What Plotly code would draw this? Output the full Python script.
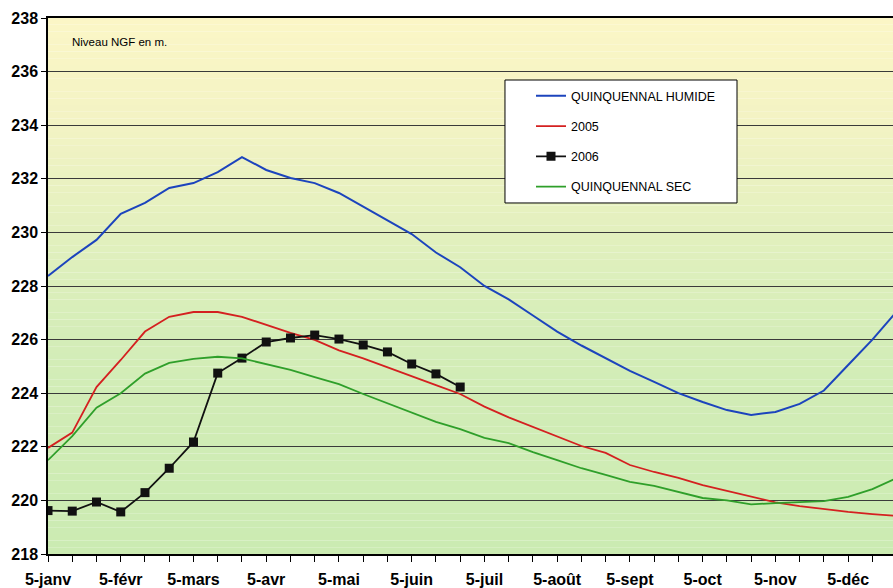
import plotly.graph_objects as go

# decades (5, 15, 25 of each month)
mois = ["janv", "févr", "mars", "avr", "mai", "juin", "juil", "août", "sept", "oct", "nov", "déc"]
categories = [f"{d}-{m}" for m in mois for d in (5, 15, 25)]

quinq_humide = [228.37, 229.08, 229.72, 230.69, 231.10, 231.66, 231.84, 232.25, 232.81, 232.33,
                232.03, 231.84, 231.47, 230.95, 230.43, 229.94, 229.25, 228.70, 228.00, 227.50,
                226.90, 226.30, 225.78, 225.31, 224.83, 224.42, 224.00, 223.67, 223.37, 223.19,
                223.30, 223.60, 224.10, 225.05, 226.00, 227.05]
an_2005 = [221.96, 222.53, 224.23, 225.24, 226.30, 226.85, 227.03, 227.03, 226.85, 226.54,
           226.25, 225.99, 225.60, 225.30, 224.96, 224.64, 224.30, 223.97, 223.50, 223.10,
           222.74, 222.40, 222.03, 221.77, 221.32, 221.06, 220.84, 220.57, 220.35, 220.15,
           219.93, 219.79, 219.68, 219.57, 219.49, 219.42]
an_2006 = [219.62, 219.60, 219.94, 219.57, 220.29, 221.20, 222.18, 224.75, 225.31, 225.91,
           226.06, 226.17, 226.02, 225.80, 225.54, 225.09, 224.72, 224.23]
quinq_sec = [221.50, 222.40, 223.46, 224.00, 224.73, 225.13, 225.28, 225.36, 225.30, 225.09,
             224.87, 224.60, 224.34, 223.97, 223.63, 223.26, 222.93, 222.66, 222.33, 222.14,
             221.80, 221.50, 221.20, 220.95, 220.69, 220.54, 220.31, 220.09, 220.00, 219.85,
             219.90, 219.93, 219.97, 220.13, 220.42, 220.83]

ticktext = [c if i % 3 == 0 else "" for i, c in enumerate(categories)]

fig = go.Figure()
fig.add_trace(go.Scatter(x=categories, y=quinq_humide, mode="lines", name="QUINQUENNAL HUMIDE",
                         legendgroup="a", line=dict(color="#1c44bd", width=2)))
fig.add_trace(go.Scatter(x=categories, y=an_2005, mode="lines", name="2005",
                         legendgroup="b", line=dict(color="#d42020", width=1.8)))
fig.add_trace(go.Scatter(x=categories[:len(an_2006)], y=an_2006, mode="lines+markers", name="2006",
                         legendgroup="c", line=dict(color="#111111", width=1.8),
                         marker=dict(symbol="square", size=9, color="#111111")))
fig.add_trace(go.Scatter(x=categories, y=quinq_sec, mode="lines", name="QUINQUENNAL SEC",
                         legendgroup="d", line=dict(color="#2f9f2a", width=1.8)))

# yellow -> green background gradient
stops = [(0.0, (203, 235, 178)), (0.4, (212, 237, 184)), (0.6, (226, 240, 190)),
         (0.8, (243, 243, 196)), (1.0, (251, 246, 198))]

def col_at(f):
    for (f0, c0), (f1, c1) in zip(stops[:-1], stops[1:]):
        if f0 <= f <= f1:
            t = (f - f0) / (f1 - f0)
            return "rgb(%d,%d,%d)" % tuple(round(a + (b - a) * t) for a, b in zip(c0, c1))
    return "rgb(%d,%d,%d)" % stops[-1][1]

n = 80
shapes = []
for k in range(n):
    shapes.append(dict(type="rect", xref="paper", yref="paper", x0=0, x1=1,
                       y0=k / n, y1=(k + 1) / n, line=dict(width=0),
                       fillcolor=col_at((k + 0.5) / n), layer="below"))
# legend frame
shapes.append(dict(type="rect", xref="paper", yref="paper", x0=0.5408, x1=0.8154,
                   y0=0.6549, y1=0.8843, fillcolor="white",
                   line=dict(color="black", width=1), layer="above"))

fig.update_layout(
    width=893, height=588,
    margin=dict(l=48, r=0, t=18, b=34),
    paper_bgcolor="white", plot_bgcolor="rgba(0,0,0,0)",
    font=dict(family="Arial, Liberation Sans", color="black"),
    shapes=shapes,
    showlegend=True,
    legend=dict(x=0.5716, y=0.882, xanchor="left", yanchor="top",
                bgcolor="rgba(0,0,0,0)", borderwidth=0, tracegroupgap=11,
                font=dict(size=12.5, family="Arial, Liberation Sans")),
    annotations=[dict(text="Niveau NGF en m.", xref="paper", yref="paper", x=0.026, y=0.955,
                      xanchor="left", yanchor="middle", showarrow=False,
                      font=dict(size=11.5, family="Liberation Sans Narrow, Arial Narrow, Arial"))],
)
fig.update_xaxes(type="category", range=[0, 34.85], tickmode="array", tickvals=categories,
                 ticktext=ticktext, ticks="outside", ticklen=6, tickcolor="black",
                 showline=True, linecolor="black", linewidth=1.5, mirror=True,
                 showgrid=False, zeroline=False, automargin=False, ticklabelstandoff=4,
                 tickfont=dict(size=16, family="Arial", weight="bold"))
fig.update_yaxes(range=[218, 238], dtick=2, ticks="outside", ticklen=5, tickcolor="black",
                 showline=True, linecolor="black", linewidth=1.5, automargin=False,
                 showgrid=True, gridcolor="#3a3a3a", gridwidth=1, zeroline=False,
                 tickfont=dict(size=16, weight="bold"))

fig.write_html("out.html", config={"displayModeBar": False},
               post_script="document.body.style.margin='0';")
